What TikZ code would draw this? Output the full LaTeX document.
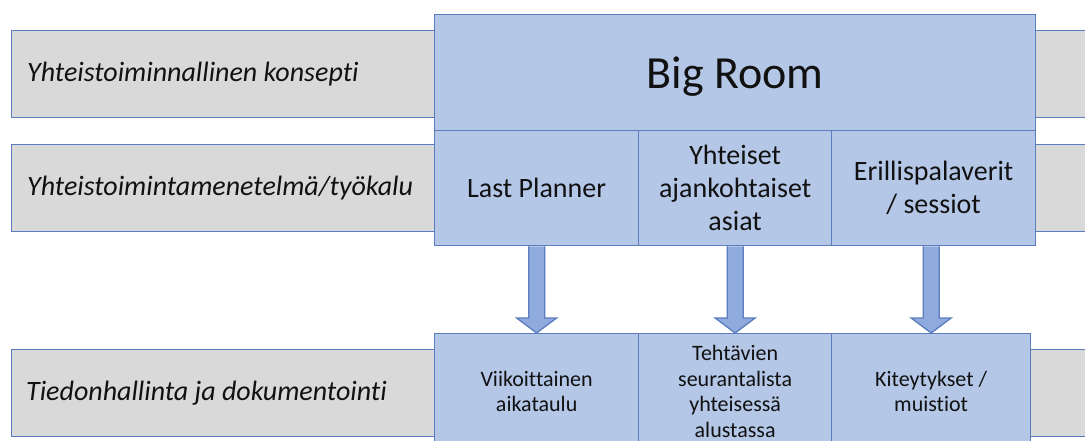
\documentclass[tikz,border=0pt]{standalone}
\usepackage{fontspec}
\setmainfont{Carlito}[Ligatures=NoCommon]
\usetikzlibrary{calc}
\definecolor{bord}{HTML}{5B7DBF}
\definecolor{grayf}{HTML}{D9D9D9}
\definecolor{bluef}{HTML}{B4C7E7}
\definecolor{arrf}{HTML}{8FAADC}
\definecolor{txt}{HTML}{111111}
\tikzset{
  graybox/.style={draw=bord,fill=grayf,line width=1.3pt,anchor=north west,inner sep=0pt},
  bluebox/.style={draw=bord,fill=bluef,line width=1.3pt,anchor=north west,inner sep=0pt,align=center,text=txt},
  lbl/.style={anchor=west,inner sep=0pt,text=txt,font=\fontsize{28}{33}\selectfont\itshape},
  midtxt/.style={font=\fontsize{28}{33}\selectfont},
  bottxt/.style={font=\fontsize{22}{25.5}\selectfont},
  barrow/.style={draw=bord,fill=arrf,line width=1.3pt,line join=miter}
}
\begin{document}
\begin{tikzpicture}[x=1pt,y=-1pt]
\useasboundingbox (0,0) rectangle (1085,441);
\clip (0,0) rectangle (1085,441);
% gray rows
\node[graybox,minimum width=423pt,minimum height=87pt] (g1) at (11,30) {};
\node[graybox,minimum width=423pt,minimum height=87pt] (g2) at (11,144) {};
\node[graybox,minimum width=423pt,minimum height=87pt] (g3) at (11,349) {};
\node[graybox,minimum width=80pt,minimum height=87pt] (r1) at (1035,30) {};
\node[graybox,minimum width=80pt,minimum height=87pt] (r2) at (1035,144) {};
\node[graybox,minimum width=80pt,minimum height=87pt] (r3) at (1030,349) {};
\node[lbl] (t1) at (27,74) {Yhteistoiminnallinen konsepti};
\node[lbl] (t2) at (27,188) {Yhteistoimintamenetelmä/työkalu};
\node[lbl] (t3) at (26,393) {Tiedonhallinta ja dokumentointi};
% blue top
\node[bluebox,minimum width=601pt,minimum height=116pt] (br) at (434,14) {};
\node[inner sep=0pt,text=txt,font=\fontsize{46}{50}\selectfont] (brt) at ([yshift=-4pt]br.center) {Big Room};
\node[bluebox,minimum width=204pt,minimum height=115pt,midtxt] (lp) at (434,130) {Last Planner};
\node[bluebox,minimum width=193pt,minimum height=115pt,midtxt] (ya) at (638,130) {Yhteiset\\ajankohtaiset\\asiat};
\node[bluebox,minimum width=204pt,minimum height=115pt,midtxt] (er) at (831,130) {Erillispalaverit\\/ sessiot};
% blue bottom
\node[bluebox,minimum width=204pt,minimum height=116pt,bottxt] (vk) at (434,333) {Viikoittainen\\aikataulu};
\node[bluebox,minimum width=193pt,minimum height=116pt,bottxt] (te) at (638,333) {Tehtävien\\seurantalista\\yhteisessä\\alustassa};
\node[bluebox,minimum width=199pt,minimum height=116pt,bottxt] (ki) at (831,333) {Kiteytykset /\\muistiot};
% arrows
\draw[barrow] let \p1=(lp.south), \p2=(vk.north) in
  (\x1-8pt,\y1) -- (\x1-8pt,\y2+15pt) -- (\x1-20pt,\y2+15pt) -- (\x1,\y2) -- (\x1+20pt,\y2+15pt) -- (\x1+8pt,\y2+15pt) -- (\x1+8pt,\y1);
\draw[barrow] let \p1=(ya.south), \p2=(te.north) in
  (\x1-8pt,\y1) -- (\x1-8pt,\y2+15pt) -- (\x1-20pt,\y2+15pt) -- (\x1,\y2) -- (\x1+20pt,\y2+15pt) -- (\x1+8pt,\y2+15pt) -- (\x1+8pt,\y1);
\draw[barrow] let \p1=(ki.north |- er.south), \p2=(ki.north) in
  (\x1-8pt,\y1) -- (\x1-8pt,\y2+15pt) -- (\x1-20pt,\y2+15pt) -- (\x1,\y2) -- (\x1+20pt,\y2+15pt) -- (\x1+8pt,\y2+15pt) -- (\x1+8pt,\y1);
\end{tikzpicture}
\end{document}
